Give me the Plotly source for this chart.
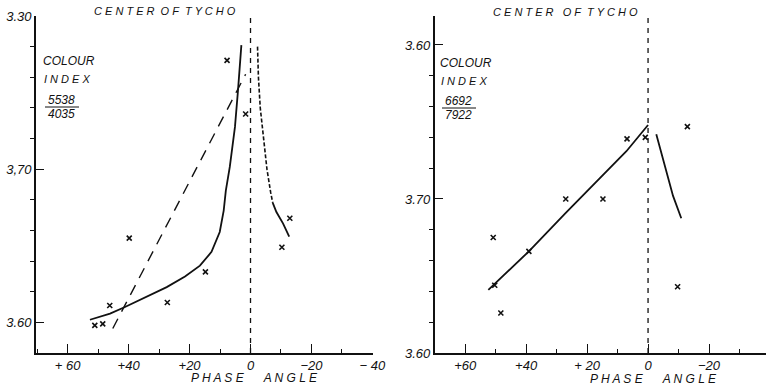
import plotly.graph_objects as go

# ---------------- data ----------------
# Left panel: colour index 5538/4035
left_pts_x = [7.7, 1.6, 39.8, 14.8, 27.3, 46.2, 51.1, 48.5, -12.9, -10.3]
left_pts_y = [3.771, 3.736, 3.655, 3.633, 3.613, 3.611, 3.598, 3.599, 3.668, 3.649]

left_curve_x = [52.7, 46.1, 41.2, 34.1, 27.5, 21.5, 16.6, 12.8, 10.1, 8.8, 8.1, 6.8, 5.1, 4.1, 3.0]
left_curve_y = [3.6017, 3.6057, 3.610, 3.6165, 3.623, 3.630, 3.637, 3.646, 3.659, 3.673, 3.686,
                3.7015, 3.7276, 3.7516, 3.781]

left_dash_x = [45.2, 1.6]
left_dash_y = [3.596, 3.762]

left_neg_dash_x = [-2.3, -2.6, -3.2, -4.2, -5.4, -6.6, -7.3]
left_neg_dash_y = [3.780, 3.760, 3.740, 3.720, 3.700, 3.685, 3.678]
left_neg_solid_x = [-7.3, -8.5, -10.7, -12.7]
left_neg_solid_y = [3.678, 3.672, 3.6645, 3.656]

left_ytick_vals = [3.60, 3.70, 3.80]
left_ytick_text = ["3.60", "3,70", "3.30"]

# Right panel: colour index 6692/7922
right_pts_x = [6.9, 0.9, -12.9, 27.0, 14.8, 50.8, 39.1, 50.3, 48.3, -9.7]
right_pts_y = [3.661, 3.660, 3.653, 3.700, 3.700, 3.725, 3.734, 3.756, 3.774, 3.757]

right_line_x = [52.4, 39.1, 27.0, 20.0, 14.8, 7.1, 0.0]
right_line_y = [3.759, 3.734, 3.709, 3.695, 3.684, 3.669, 3.652]

right_seg_x = [-2.7, -8.2, -10.9]
right_seg_y = [3.658, 3.698, 3.7125]

right_ytick_vals = [3.60, 3.70, 3.80]
right_ytick_text = ["3.60", "3.70", "3.60"]

left_xtick_vals = [60, 40, 20, 0, -20, -40]
left_xtick_text = ["+ 60", "+40", "+20", "0", "\u221220", "\u2212 40"]
left_xminor_vals = [70, 50, 30, 10, -10, -30]
right_xtick_vals = [60, 40, 20, 0, -20]
right_xtick_text = ["+60", "+40", "+ 20", "0", "\u221220"]
right_xminor_vals = [50, 30, 10, -10, -30]
yminor_vals = [3.58, 3.62, 3.64, 3.66, 3.68, 3.72, 3.74, 3.76, 3.78]

# ---------------- figure ----------------
W, H = 766, 392
FONT = "Liberation Sans"
BLACK = "#111111"

fig = go.Figure()

mk = dict(symbol="x-thin", size=5, line=dict(width=1.6, color=BLACK), color=BLACK)

# left panel traces
fig.add_trace(go.Scatter(x=left_pts_x, y=left_pts_y, mode="markers", marker=mk,
                         xaxis="x", yaxis="y", showlegend=False))
fig.add_trace(go.Scatter(x=left_curve_x, y=left_curve_y, mode="lines", line=dict(color=BLACK, width=1.8),
                         xaxis="x", yaxis="y", showlegend=False))
fig.add_trace(go.Scatter(x=left_dash_x, y=left_dash_y, mode="lines", line=dict(color=BLACK, width=1.4, dash="11px,8px"),
                         xaxis="x", yaxis="y", showlegend=False))
fig.add_trace(go.Scatter(x=left_neg_dash_x, y=left_neg_dash_y, mode="lines",
                         line=dict(color=BLACK, width=1.6, dash="4px,2px"),
                         xaxis="x", yaxis="y", showlegend=False))
fig.add_trace(go.Scatter(x=left_neg_solid_x, y=left_neg_solid_y, mode="lines",
                         line=dict(color=BLACK, width=1.8),
                         xaxis="x", yaxis="y", showlegend=False))
fig.add_trace(go.Scatter(x=[0, 0], y=[3.58, 3.803], mode="lines",
                         line=dict(color=BLACK, width=1.3, dash="5px,5px"),
                         xaxis="x", yaxis="y", showlegend=False))

# right panel traces
fig.add_trace(go.Scatter(x=right_pts_x, y=right_pts_y, mode="markers", marker=mk,
                         xaxis="x2", yaxis="y2", showlegend=False))
fig.add_trace(go.Scatter(x=right_line_x, y=right_line_y, mode="lines", line=dict(color=BLACK, width=1.8),
                         xaxis="x2", yaxis="y2", showlegend=False))
fig.add_trace(go.Scatter(x=right_seg_x, y=right_seg_y, mode="lines", line=dict(color=BLACK, width=1.8),
                         xaxis="x2", yaxis="y2", showlegend=False))
fig.add_trace(go.Scatter(x=[0, 0], y=[3.80, 3.5812], mode="lines",
                         line=dict(color=BLACK, width=1.3, dash="5px,5px"),
                         xaxis="x2", yaxis="y2", showlegend=False))

y_dom = [1 - 353 / H, 1 - 16 / H]
tickfont = dict(family=FONT, size=13, color=BLACK, style="italic")

common_x = dict(showgrid=False, zeroline=False, showline=True, linecolor=BLACK, linewidth=1.6,
                ticks="inside", ticklen=9, tickwidth=1.4, tickcolor=BLACK, tickfont=tickfont,
                automargin=False, tickmode="array")
common_y = dict(showgrid=False, zeroline=False, showline=True, linecolor=BLACK, linewidth=1.6,
                ticks="inside", ticklen=8, tickwidth=1.4, tickcolor=BLACK, tickfont=tickfont,
                automargin=False, tickmode="array")

xminor = dict(ticks="inside", ticklen=4, tickwidth=1.2, tickcolor=BLACK)
yminor = dict(ticks="outside", ticklen=4, tickwidth=1.2, tickcolor=BLACK, tickvals=yminor_vals)

fig.update_layout(
    width=W, height=H,
    margin=dict(l=0, r=0, t=0, b=0),
    paper_bgcolor="white", plot_bgcolor="white",
    xaxis=dict(common_x, domain=[36 / W, 373 / W], range=[70.4, -40.2],
               tickvals=left_xtick_vals, ticktext=left_xtick_text, anchor="y",
               minor=dict(xminor, tickvals=left_xminor_vals)),
    yaxis=dict(common_y, domain=y_dom, range=[3.58, 3.80],
               tickvals=left_ytick_vals, ticktext=left_ytick_text, anchor="x", minor=yminor),
    xaxis2=dict(common_x, domain=[434.7 / W, 1.0], range=[70, -38.7],
                tickvals=right_xtick_vals, ticktext=right_xtick_text, anchor="y2",
                minor=dict(xminor, tickvals=right_xminor_vals)),
    yaxis2=dict(common_y, domain=y_dom, range=[3.80, 3.5812],
                tickvals=right_ytick_vals, ticktext=right_ytick_text, anchor="x2", minor=yminor),
)

afont = dict(family=FONT, size=12, color=BLACK, style="italic")


def ann(text, x, y, size=12, xanchor="left"):
    fig.add_annotation(text=text, x=x / W, y=1 - y / H, xref="paper", yref="paper",
                       showarrow=False, xanchor=xanchor, yanchor="middle",
                       font=dict(afont, size=size))


ann("C E N T E R&nbsp;&nbsp;O F&nbsp;&nbsp;T Y C H O", 165, 11, size=11, xanchor="center")
ann("C E N T E R&nbsp;&nbsp;&nbsp;O F&nbsp;&nbsp;T Y C H O", 565, 12, size=11, xanchor="center")
ann("P H A S E&nbsp;&nbsp;&nbsp;&nbsp;&nbsp;&nbsp;A N G L E", 254, 378, size=12, xanchor="center")
ann("P H A S E&nbsp;&nbsp;&nbsp;&nbsp;&nbsp;&nbsp;A N G L E", 653, 379, size=12, xanchor="center")
for ox, nums in [(0, ("5538", "4035")), (397, ("6692", "7922"))]:
    d = 2 if ox else 0
    ann("COLOUR", 41 + ox, 61 + d, size=12)
    ann("I N D E X", 42 + ox, 79 + d, size=11)
    ann(nums[0], 46 + ox, 100 + d // 2, size=12)
    ann(nums[1], 46 + ox, 114 + d // 2, size=12)
    fig.add_shape(type="line", xref="paper", yref="paper",
                  x0=(45 + ox) / W, x1=(79 + ox) / W, y0=1 - (107 + d // 2) / H,
                  y1=1 - (107 + d // 2) / H, line=dict(color=BLACK, width=1))

fig.write_html("out.html")
